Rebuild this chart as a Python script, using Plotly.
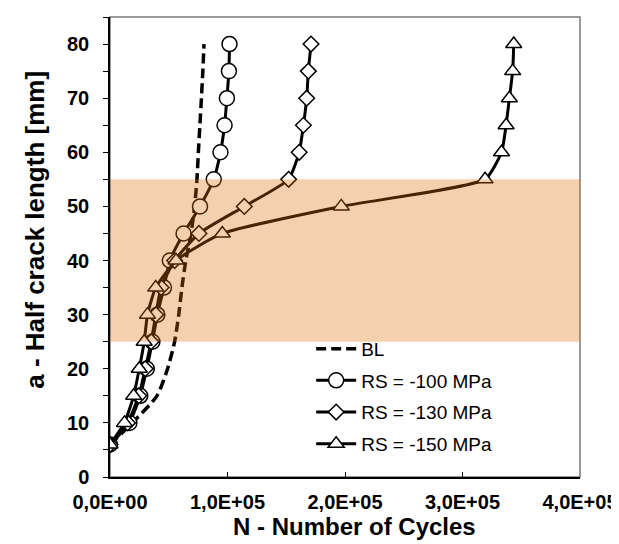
import plotly.graph_objects as go

# crack half-length a [mm] (same for all series)
a_mm = [6, 10, 15, 20, 25, 30, 35, 40, 45, 50, 55, 60, 65, 70, 75, 80]

# number of cycles
n_bl    = [0, 19000, 40000, 49000, 55000, 58500, 61200, 64500, 69000, 72000, 74000, 75200, 76500, 77800, 79000, 80000]
n_rs100 = [0, 16500, 25700, 31300, 36100, 40300, 45900, 50900, 62600, 76600, 88300, 94000, 97500, 99500, 101200, 101700]
n_rs130 = [0, 15000, 24500, 30000, 35000, 39000, 43500, 55000, 75700, 114300, 152000, 161000, 164600, 167400, 168800, 171100]
n_rs150 = [0, 12300, 20100, 24900, 29100, 31900, 38900, 56200, 95600, 196800, 319200, 333200, 337100, 339900, 342700, 343600]

x_tickvals = [0, 100000, 200000, 300000, 400000]
x_ticktext = ["0,0E+00", "1,0E+05", "2,0E+05", "3,0E+05", "4,0E+05"]
y_tickvals = [0, 5, 10, 15, 20, 25, 30, 35, 40, 45, 50, 55, 60, 65, 70, 75, 80, 85]
y_ticktext = ["0", "", "10", "", "20", "", "30", "", "40", "", "50", "", "60", "", "70", "", "80", ""]

band_low, band_high = 25, 55

FONT = "Liberation Sans, Arial, sans-serif"

fig = go.Figure()

fig.add_trace(go.Scatter(
    x=n_bl, y=a_mm, name="BL", mode="lines", legendgroup="bl",
    line=dict(color="black", width=3.5, dash="10px,5px", shape="spline", smoothing=0.6),
))

def rs_trace(x, name, symbol, size):
    return go.Scatter(
        x=x, y=a_mm, name=name, mode="lines+markers", legendgroup=name,
        line=dict(color="black", width=3, shape="spline", smoothing=0.5),
        marker=dict(symbol=symbol, size=size, color="white",
                    line=dict(color="black", width=1.5)),
    )

fig.add_trace(rs_trace(n_rs100, "RS = -100 MPa", "circle", 15))
fig.add_trace(rs_trace(n_rs130, "RS = -130 MPa", "diamond", 12))
fig.add_trace(rs_trace(n_rs150, "RS = -150 MPa", "triangle-up", 14))

# plot frame (top/right grey)
fig.add_shape(type="rect", xref="paper", yref="paper", x0=0, x1=1, y0=0, y1=1,
              line=dict(color="#7a7a7a", width=1.5), layer="below")

# translucent band over the traces
fig.add_shape(type="rect", xref="paper", yref="y", x0=0, x1=1,
              y0=band_low, y1=band_high,
              fillcolor="rgb(225,110,5)", opacity=0.32, line=dict(width=0),
              layer="above")

fig.add_annotation(text="<b>a - Half crack length [mm]</b>", textangle=-90,
                   xref="paper", yref="paper", x=-0.160, y=0.537,
                   xanchor="center", yanchor="middle", showarrow=False,
                   font=dict(size=26, family=FONT, color="black"))
fig.add_annotation(text="<b>N - Number of Cycles</b>",
                   xref="paper", yref="paper", x=0.52, y=-0.108,
                   xanchor="center", yanchor="middle", showarrow=False,
                   font=dict(size=24, family=FONT, color="black"))

fig.update_layout(
    width=619, height=544,
    margin=dict(l=102, r=40, t=9, b=75),
    paper_bgcolor="white", plot_bgcolor="white",
    font=dict(family=FONT, color="black"),
    showlegend=True,
    legend=dict(x=0.428, y=0.32, xanchor="left", yanchor="top",
                bgcolor="rgba(0,0,0,0)", font=dict(size=19, family=FONT),
                itemwidth=40, tracegroupgap=4),
    xaxis=dict(
        range=[0, 400000], tickvals=x_tickvals, ticktext=x_ticktext,
        showgrid=False, zeroline=False,
        showline=True, linecolor="black", linewidth=1.5,
        ticks="inside", ticklen=5, tickcolor="black",
        tickfont=dict(size=20, family=FONT, weight="bold"),
        ticklabelstandoff=6,
    ),
    yaxis=dict(
        range=[0, 85], tickvals=y_tickvals, ticktext=y_ticktext,
        showgrid=False, zeroline=False,
        showline=True, linecolor="black", linewidth=1.5,
        ticks="outside", ticklen=5, tickcolor="black",
        tickfont=dict(size=20, family=FONT, weight="bold"),
        ticklabelstandoff=10,
    ),
)

fig.write_html("out.html")
